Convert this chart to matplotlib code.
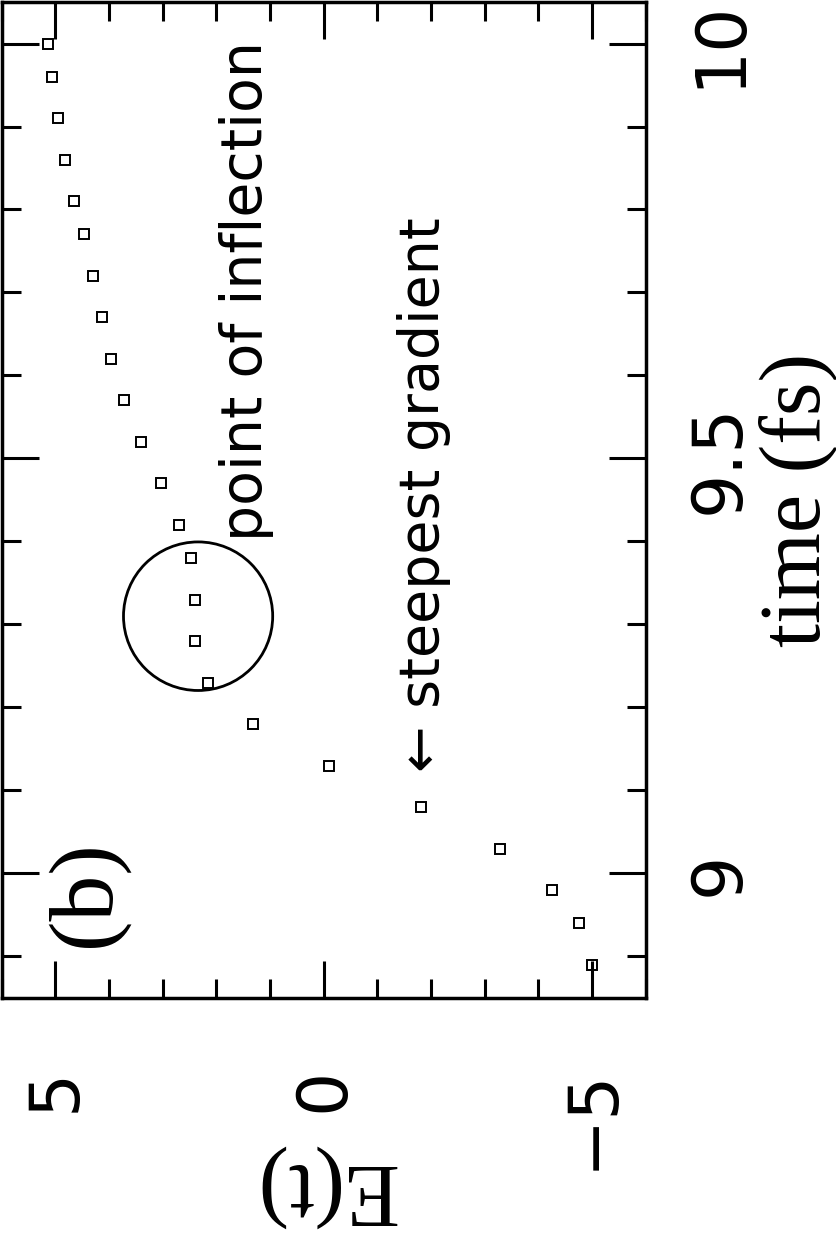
import matplotlib
matplotlib.use('Agg')
import matplotlib.pyplot as plt
from matplotlib.patches import Ellipse
from matplotlib.ticker import MultipleLocator

# the page is drawn turned on its side: E(t) runs across, time runs up
time_fs = [8.89, 8.94, 8.98, 9.03, 9.08, 9.13, 9.18, 9.23, 9.28, 9.33, 9.38, 9.42,
           9.47, 9.52, 9.57, 9.62, 9.67, 9.72, 9.77, 9.81, 9.86, 9.91, 9.96, 10.00]
field = [-5.00, -4.76, -4.25, -3.28, -1.81, -0.09, 1.32, 2.15, 2.40, 2.40, 2.47, 2.69,
         3.03, 3.40, 3.72, 3.96, 4.13, 4.30, 4.47, 4.65, 4.82, 4.95, 5.06, 5.13]

e_ticks = [5, 0, -5]
e_ticklabels = ['5', '0', '\u22125']
t_ticks = [9, 9.5, 10]
t_ticklabels = ['9', '9.5', '10']

serif = 'Liberation Serif'
sans = 'DejaVu Sans'

fig = plt.figure(figsize=(8.37, 12.35), dpi=100)
ax = fig.add_axes([0.002, 1 - 998 / 1235, 644 / 837, 996 / 1235])

ax.plot(field, time_fs, 's', ms=7, mfc='none', mec='black', mew=1.4)

# circle round the inflection point
ax.add_patch(Ellipse((2.34, 9.31), 2.78, 0.179, fill=False, lw=2.0, ec='black'))

ax.set_xlim(6, -6)
ax.set_ylim(8.85, 10.05)

ax.set_xticks(e_ticks, labels=e_ticklabels)
ax.set_yticks(t_ticks, labels=t_ticklabels)
ax.xaxis.set_minor_locator(MultipleLocator(1))
ax.yaxis.set_minor_locator(MultipleLocator(0.1))

ax.tick_params(which='both', direction='in', top=True, bottom=True, left=True, right=True,
               labelleft=False, labelright=True, labelbottom=True, labeltop=False)
ax.tick_params(which='major', length=26.6, width=2.2)
ax.tick_params(which='minor', length=13.7, width=2.2)
ax.tick_params(axis='x', labelrotation=90, labelsize=50, pad=50)
ax.tick_params(axis='y', labelrotation=90, labelsize=50, pad=29)
for lbl in ax.get_xticklabels() + ax.get_yticklabels():
    lbl.set_family(sans)
for lbl in ax.get_yticklabels():
    lbl.set_verticalalignment('center')

for sp in ax.spines.values():
    sp.set_linewidth(2.5)

ax.set_xlabel('E(t)', rotation=180, family=serif, fontsize=66)
ax.xaxis.set_label_coords(0.5, -0.148)
ax.yaxis.set_label_position('right')
ax.set_ylabel('time (fs)', family=serif, fontsize=62, rotation=90)
ax.yaxis.set_label_coords(1.176, 0.5)

ax.text(1.15, 9.40, 'point of inflection', rotation=90, rotation_mode='anchor',
        ha='left', va='baseline', family=sans, fontsize=41)
ax.text(-2.15, 9.122, '\u2190 steepest gradient', rotation=90, rotation_mode='anchor',
        ha='left', va='baseline', family=sans, fontsize=40)
ax.text(4.41, 8.976, '(b)', rotation=90, ha='center', va='center',
        family=serif, fontsize=66)

fig.savefig('out.png', dpi=100)
